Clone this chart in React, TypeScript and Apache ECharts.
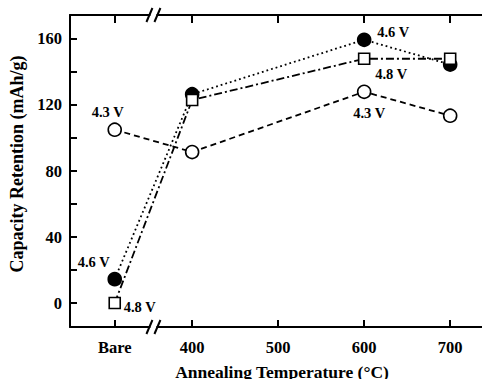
import React, { useEffect, useRef } from "react";
import * as echarts from "echarts";

const xTickValues = [310, 400, 500, 600, 700];
const xTickLabels = ["Bare", "400", "500", "600", "700"];
const sampleX = [310, 400, 600, 700];
const yTickValues = [0, 40, 80, 120, 160];
const yMinorTicks = [0, 20, 40, 60, 80, 100, 120, 140, 160];

const v43 = [105, 91.5, 128, 113.5];
const v46 = [14.5, 126.5, 159.5, 144.5];
const v48 = [0, 123, 148, 148];

const FONT = "Liberation Serif";

export default function App() {
  const ref = useRef<HTMLDivElement>(null);
  useEffect(() => {
    const chart = echarts.init(ref.current!, null, { renderer: "svg" });
    const lbl = (text: string, off: number[]) => ({
      show: true,
      formatter: text,
      position: "inside",
      offset: off,
      color: "#000",
      fontFamily: FONT,
      fontWeight: "bold",
      fontSize: 14.5,
    });
    const mk = (vals: number[], labels: Record<number, any>) =>
      vals.map((v, i) => (labels[i] ? { value: [sampleX[i], v], label: labels[i] } : { value: [sampleX[i], v] }));

    const xAxisBase = {
      type: "value",
      min: 258,
      max: 737,
      splitLine: { show: false },
      axisLine: { show: true, onZero: false, lineStyle: { color: "#000", width: 2 } },
    };
    chart.setOption({
      animation: false,
      backgroundColor: "#fff",
      grid: { left: 70, top: 15, right: 0, bottom: 52, containLabel: false, outerBoundsMode: "none" },
      xAxis: [
        {
          ...xAxisBase,
          position: "bottom",
          name: "Annealing Temperature (°C)",
          nameLocation: "middle",
          nameGap: 36,
          nameTextStyle: { fontFamily: FONT, fontWeight: "bold", fontSize: 17.5, color: "#000", padding: [0, 0, 0, 12] },
          axisTick: { show: true, inside: true, length: 7, customValues: xTickValues, lineStyle: { color: "#000", width: 2 } },
          axisLabel: {
            show: true,
            customValues: xTickValues,
            margin: 12,
            formatter: (v: number) => xTickLabels[xTickValues.indexOf(v)] ?? "",
            fontFamily: FONT,
            fontWeight: "bold",
            fontSize: 16.5,
            color: "#000",
          },
        },
        {
          ...xAxisBase,
          position: "top",
          axisTick: { show: true, inside: true, length: 8, customValues: xTickValues, lineStyle: { color: "#000", width: 2 } },
          axisLabel: { show: false },
        },
      ],
      yAxis: {
        type: "value",
        min: -14.5,
        max: 174.5,
        position: "left",
        splitLine: { show: false },
        axisLine: { show: true, onZero: false, lineStyle: { color: "#000", width: 2 } },
        axisTick: { show: true, inside: true, length: 7, customValues: yMinorTicks, lineStyle: { color: "#000", width: 2 } },
        axisLabel: {
          show: true,
          customValues: yTickValues,
          margin: 8,
          fontFamily: FONT,
          fontWeight: "bold",
          fontSize: 16.5,
          color: "#000",
        },
        name: "Capacity Retention (mAh/g)",
        nameLocation: "middle",
        nameGap: 38,
        nameTextStyle: { fontFamily: FONT, fontWeight: "bold", fontSize: 18, color: "#000", padding: [0, 0, 0, 14] },
      },
      series: [
        {
          type: "line",
          name: "4.3 V",
          data: mk(v43, { 0: lbl("4.3 V", [-7, -18]), 2: lbl("4.3 V", [5, 21]) }),
          symbol: "circle",
          symbolSize: 13,
          itemStyle: { color: "#fff", borderColor: "#000", borderWidth: 1.6 },
          lineStyle: { color: "#000", width: 1.8, type: [6, 4] },
          z: 2,
        },
        {
          type: "line",
          name: "4.6 V",
          data: mk(v46, { 0: lbl("4.6 V", [-21, -17]), 2: lbl("4.6 V", [29, -8]) }),
          symbol: "circle",
          symbolSize: 13,
          itemStyle: { color: "#000", borderColor: "#000", borderWidth: 1.6 },
          lineStyle: { color: "#000", width: 1.8, type: [1.8, 3] },
          z: 3,
        },
        {
          type: "line",
          name: "4.8 V",
          data: mk(v48, { 0: lbl("4.8 V", [25, 4]), 2: lbl("4.8 V", [27, 15]) }),
          symbol: "rect",
          symbolSize: 11,
          itemStyle: { color: "#fff", borderColor: "#000", borderWidth: 1.6 },
          lineStyle: { color: "#000", width: 1.8, type: [8, 3, 2, 3] },
          z: 4,
        },
      ],
    });

    const breakX = 355;
    const bx = chart.convertToPixel({ xAxisIndex: 0 }, breakX) as number;
    const yb = chart.convertToPixel({ yAxisIndex: 0 }, -14.5) as number;
    const yt = chart.convertToPixel({ yAxisIndex: 0 }, 174.5) as number;
    const brk = (y: number) => [
      { type: "rect", shape: { x: bx - 3, y: y - 2, width: 6, height: 4 }, style: { fill: "#fff" }, z: 100 },
      { type: "line", shape: { x1: bx - 7, y1: y + 7, x2: bx - 1, y2: y - 7 }, style: { stroke: "#000", lineWidth: 2 }, z: 101 },
      { type: "line", shape: { x1: bx + 1, y1: y + 7, x2: bx + 7, y2: y - 7 }, style: { stroke: "#000", lineWidth: 2 }, z: 101 },
    ];
    chart.setOption({ graphic: [...brk(yb), ...brk(yt)] });

    return () => chart.dispose();
  }, []);
  return <div ref={ref} style={{ position: "fixed", left: 0, top: 0, width: 482, height: 379 }} />;
}
